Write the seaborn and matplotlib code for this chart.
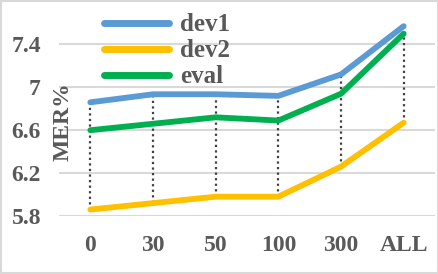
import pandas as pd
import seaborn as sns
import matplotlib.pyplot as plt
from matplotlib.patches import Rectangle

# valores
categorias = ['0', '30', '50', '100', '300', 'ALL']
dev1 = [6.86, 6.935, 6.935, 6.92, 7.12, 7.57]
dev2 = [5.86, 5.92, 5.98, 5.98, 6.26, 6.67]
eval_ = [6.60, 6.66, 6.72, 6.69, 6.94, 7.50]
yticks = [5.8, 6.2, 6.6, 7.0, 7.4]
ytick_labels = ['5.8', '6.2', '6.6', '7', '7.4']

dados = pd.DataFrame({
    'x': categorias * 3,
    'MER': dev1 + dev2 + eval_,
    'serie': ['dev1'] * 6 + ['dev2'] * 6 + ['eval'] * 6,
})
cores = {'dev1': '#5B9BD5', 'dev2': '#FFC000', 'eval': '#00B050'}

sns.set_style('white')
plt.rcParams['font.family'] = ['Liberation Serif', 'DejaVu Serif']
plt.rcParams['font.weight'] = 'bold'
cinza = '#595959'

fig = plt.figure(figsize=(4.39, 2.74), dpi=100)
ax = fig.add_axes([59 / 439, 58 / 274, 376 / 439, 214.5 / 274])

# linhas pontilhadas entre o máximo e o mínimo de cada categoria
topo = [max(a, b, c) for a, b, c in zip(dev1, dev2, eval_)]
base = [min(a, b, c) for a, b, c in zip(dev1, dev2, eval_)]
ax.vlines(categorias, base, topo, colors='#404040', linestyles=(0, (1, 1.5)), linewidth=1.6, zorder=1)

sns.lineplot(data=dados, x='x', y='MER', hue='serie', palette=cores, linewidth=4.2,
             ax=ax, sort=False, zorder=2)

ax.set_xlim(-0.5, 5.5)
ax.set_ylim(5.8, 7.8)
ax.set_yticks(yticks)
ax.set_yticklabels(ytick_labels)
ax.grid(axis='y', color='#D9D9D9', linewidth=1.5)
ax.set_axisbelow(True)
for s in ax.spines.values():
    s.set_visible(False)
ax.tick_params(axis='y', length=0, pad=13, labelsize=17, labelcolor=cinza)
ax.tick_params(axis='x', length=0, pad=14, labelsize=17, labelcolor=cinza)
ax.set_xlabel('')
ax.set_ylabel('')
fig.text(63 / 439, 1 - 122 / 274, 'MER%', rotation=90, ha='center', va='center',
         fontsize=17, color=cinza, fontweight='bold')

leg = ax.legend(loc='upper left', bbox_to_anchor=(0.06, 1.05), frameon=False,
                fontsize=18, handlelength=2.6, handletextpad=0.45, labelspacing=0.12)
for t in leg.get_texts():
    t.set_color(cinza)
for l in leg.get_lines():
    l.set_linewidth(5)
    l.set_solid_capstyle('round')

fig.patches.append(Rectangle((0.002, 0.003), 0.995, 0.994, transform=fig.transFigure,
                             fill=False, edgecolor='#D9D9D9', linewidth=1.5))

plt.savefig('out.png', dpi=100)
